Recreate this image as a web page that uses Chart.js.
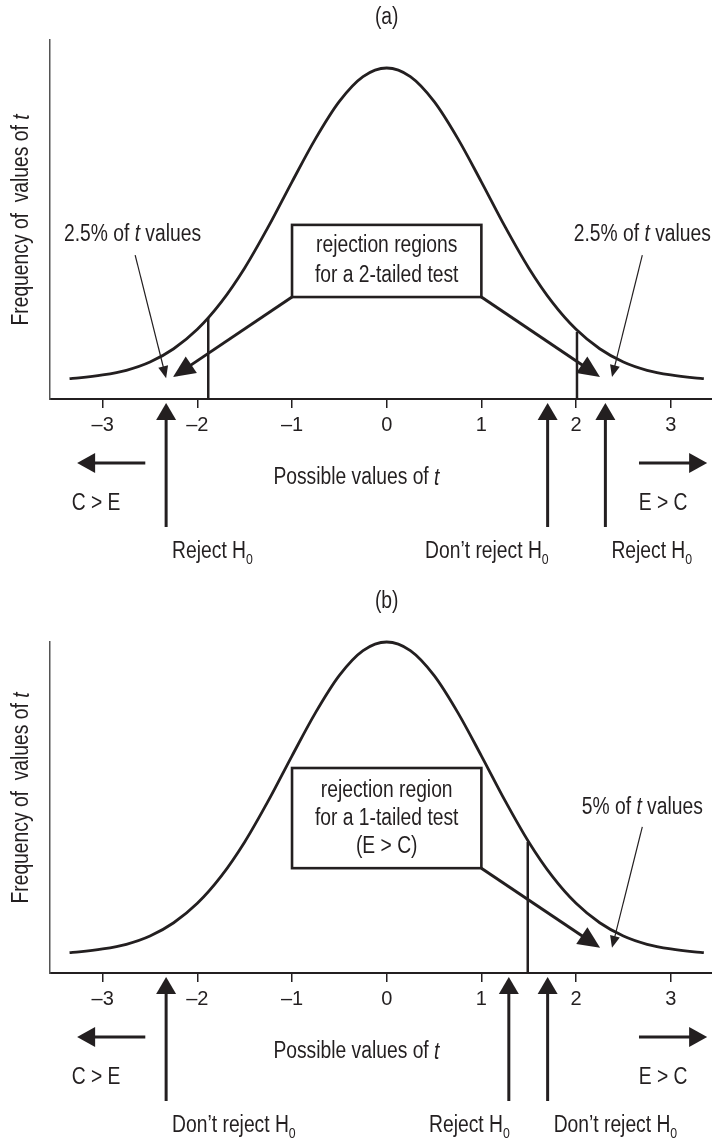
<!DOCTYPE html>
<html><head><meta charset="utf-8">
<script src="https://cdn.jsdelivr.net/npm/chart.js@4.4.1/dist/chart.umd.min.js"></script>
<style>
html,body{margin:0;padding:0;background:#fff;}
#wrapA{position:absolute;left:0;top:0;width:712px;height:574px;}
#wrapB{position:absolute;left:0;top:574px;width:712px;height:566px;}
canvas{display:block;}
</style></head><body>
<div id="wrapA"><canvas id="chartA"></canvas></div>
<div id="wrapB"><canvas id="chartB"></canvas></div>
<script>
// ---------------- data ----------------
const tickValues = [-3, -2, -1, 0, 1, 2, 3];
const curveT    = [-3.35,-3.25,-3,-2.75,-2.5,-2.25,-2,-1.75,-1.5,-1.25,-1,-0.75,-0.5,-0.25,0,0.25,0.5,0.75,1,1.25,1.5,1.75,2,2.25,2.5,2.75,3,3.25,3.35];
const curveFreq = [5.7,5.9,6.7,8.0,10.3,14.0,19.4,26.9,36.5,48.0,60.5,72.6,82.9,89.8,92.2,89.8,82.9,72.6,60.5,48.0,36.5,26.9,19.4,14.0,10.3,8.0,6.7,5.9,5.7];

const panelTitles = ['(a)', '(b)'];
const yAxisTitle = 'Frequency of  values of *t*';
const xAxisTitle = 'Possible values of *t*';
const directionLabels = ['C > E', 'E > C'];
const directionFromT = [-2.55, 2.665];
const directionToT = [-3.27, 3.385];
const directionLabelT = [-3.07, 2.92];

// panel (a)
const criticalT_a = [-1.885, 2.01];
const criticalFreq_a = [22.6, 18.7];
const decisionT_a = [-2.33, 1.70, 2.31];
const decisionLabels_a = ['Reject H_0', 'Don\u2019t reject H_0', 'Reject H_0'];
const decisionAlign_a = ['left', 'right', 'left'];
const boxLines_a = ['rejection regions', 'for a 2-tailed test'];
const boxT_a = [-1, 1];
const boxFreq_a = [28.4, 48.5];
const pointerFrom_a = [[-1, 28.4], [1, 28.4]];
const pointerTo_a = [[-2.257, 6.1], [2.253, 6.1]];
const noteLabels_a = ['2.5% of *t* values', '2.5% of *t* values'];
const noteAt_a = [[-2.685, 45.7], [2.70, 45.7]];
const noteFrom_a = [[-2.657, 40.1], [2.70, 40.1]];
const noteTo_a = [[-2.33, 5.8], [2.38, 6.1]];

// panel (b)
const criticalT_b = [1.49];
const criticalFreq_b = [36.5];
const decisionT_b = [-2.33, 1.29, 1.70];
const decisionLabels_b = ['Don\u2019t reject H_0', 'Reject H_0', 'Don\u2019t reject H_0'];
const decisionAlign_b = ['left', 'right', 'left'];
const boxLines_b = ['rejection region', 'for a 1-tailed test', '(E > C)'];
const boxT_b = [-1, 1];
const boxFreq_b = [29.2, 57.1];
const pointerFrom_b = [[1, 29.2]];
const pointerTo_b = [[2.254, 7.0]];
const noteLabels_b = ['5% of *t* values'];
const noteAt_b = [[2.70, 46.2]];
const noteFrom_b = [[2.70, 40.7]];
const noteTo_b = [[2.38, 7.0]];

// ---------------- styling / layout ----------------
const INK = '#231f20';
const AXIS_Y = 399;
const X_MIN = -3.5566, X_MAX = 3.4362;

function hasFont(name) {
  const c = document.createElement('canvas').getContext('2d');
  c.font = '40px monospace';
  const w1 = c.measureText('abcdefghijklmWMi').width;
  c.font = '40px "' + name + '", monospace';
  const w2 = c.measureText('abcdefghijklmWMi').width;
  return Math.abs(w1 - w2) > 0.5;
}
const NARROW = hasFont('Liberation Sans Narrow');
const FAM = NARROW ? '"Liberation Sans Narrow", "Liberation Sans", Arial, sans-serif' : '"Liberation Sans", Arial, sans-serif';
const SX = NARROW ? 1 : 0.82;
const TXT = 23.5;

function parseRich(s) {
  const out = []; const re = /\*([^*]+)\*|_(\w)/g; let last = 0, m;
  while ((m = re.exec(s))) {
    if (m.index > last) out.push({ t: s.slice(last, m.index) });
    if (m[1] !== undefined) out.push({ t: m[1], it: true }); else out.push({ t: m[2], sub: true });
    last = re.lastIndex;
  }
  if (last < s.length) out.push({ t: s.slice(last) });
  return out;
}
function drawRich(ctx, s, x, y, align, size) {
  const segs = parseRich(s);
  ctx.textBaseline = 'middle'; ctx.textAlign = 'left';
  const fontOf = sg => (sg.it ? 'italic ' : '') + (sg.sub ? Math.round(size * 0.62) : size) + 'px ' + FAM;
  let total = 0;
  const ws = segs.map(sg => { ctx.font = fontOf(sg); const w = ctx.measureText(sg.t).width * SX; total += w; return w; });
  let cx = align === 'center' ? x - total / 2 : align === 'right' ? x - total : x;
  segs.forEach((sg, i) => {
    ctx.font = fontOf(sg);
    ctx.save(); ctx.translate(cx, y + (sg.sub ? size * 0.34 : 0)); ctx.scale(SX, 1);
    ctx.fillText(sg.t, 0, 0); ctx.restore();
    cx += ws[i];
  });
}
function arrow(ctx, x0, y0, x1, y1, lw, L, W) {
  const dx = x1 - x0, dy = y1 - y0, len = Math.hypot(dx, dy), ux = dx / len, uy = dy / len;
  const bx = x1 - ux * L, by = y1 - uy * L;
  ctx.lineWidth = lw; ctx.lineCap = 'butt';
  ctx.beginPath(); ctx.moveTo(x0, y0); ctx.lineTo(bx + ux, by + uy); ctx.stroke();
  ctx.beginPath(); ctx.moveTo(x1, y1);
  ctx.lineTo(bx - uy * W, by + ux * W); ctx.lineTo(bx + uy * W, by - ux * W);
  ctx.closePath(); ctx.fill();
}

function makeAnnot(P) {
  return {
    id: 'annot' + P.id,
    afterDraw(chart) {
      const ctx = chart.ctx, xs = chart.scales.x, ys = chart.scales.y, ca = chart.chartArea;
      const X = v => xs.getPixelForValue(v), Y = v => ys.getPixelForValue(v);
      const base = ca.bottom;
      ctx.save();
      ctx.fillStyle = INK; ctx.strokeStyle = INK;
      drawRich(ctx, P.title, X(0), P.titleY, 'center', TXT);
      ctx.save(); ctx.translate(22, P.yTitleY); ctx.rotate(-Math.PI / 2);
      drawRich(ctx, yAxisTitle, 0, 0, 'center', TXT); ctx.restore();
      drawRich(ctx, xAxisTitle, X(-0.32), base + 79, 'center', TXT);
      directionLabels.forEach((lab, i) => {
        arrow(ctx, X(directionFromT[i]), base + 64, X(directionToT[i]), base + 64, 3, 18, 10);
        drawRich(ctx, lab, X(directionLabelT[i]), base + 105, 'center', TXT);
      });
      P.decT.forEach((t, i) => {
        const x = X(t);
        arrow(ctx, x, base + 128, x, base + 4, 3, 17, 10);
        const al = P.decAlign[i];
        drawRich(ctx, P.decL[i], al === 'left' ? x + 6 : x + 1, base + 153, al, TXT);
      });
      const bx0 = X(P.boxT[0]), bx1 = X(P.boxT[1]), by0 = Y(P.boxF[1]), by1 = Y(P.boxF[0]);
      ctx.fillStyle = '#fff'; ctx.fillRect(bx0, by0, bx1 - bx0, by1 - by0);
      ctx.fillStyle = INK; ctx.lineWidth = 2.6; ctx.strokeRect(bx0, by0, bx1 - bx0, by1 - by0);
      const n = P.boxLines.length, cy = (by0 + by1) / 2;
      P.boxLines.forEach((ln, i) => drawRich(ctx, ln, (bx0 + bx1) / 2, cy + (i - (n - 1) / 2) * P.lh, 'center', TXT));
      P.pFrom.forEach((f, i) => arrow(ctx, X(f[0]), Y(f[1]), X(P.pTo[i][0]), Y(P.pTo[i][1]), 3, 22, 10));
      P.nLab.forEach((lab, i) => {
        drawRich(ctx, lab, X(P.nAt[i][0]), Y(P.nAt[i][1]), 'center', TXT);
        arrow(ctx, X(P.nFrom[i][0]), Y(P.nFrom[i][1]), X(P.nTo[i][0]), Y(P.nTo[i][1]), 1.2, 12, 5);
      });
      ctx.restore();
    }
  };
}

function buildChart(P) {
  const datasets = [{
    data: curveT.map((t, i) => ({ x: t, y: curveFreq[i] })),
    showLine: true, borderColor: INK, borderWidth: 2.8, pointRadius: 0,
    cubicInterpolationMode: 'monotone', fill: false, clip: false
  }];
  P.critT.forEach((t, i) => datasets.push({
    data: [{ x: t, y: 0 }, { x: t, y: P.critF[i] }],
    showLine: true, borderColor: INK, borderWidth: 2.5, pointRadius: 0, clip: false
  }));
  return new Chart(document.getElementById(P.id), {
    type: 'scatter',
    data: { datasets },
    options: {
      animation: false, responsive: true, maintainAspectRatio: false, devicePixelRatio: 1,
      layout: { padding: { top: P.padTop, left: 0, right: 0, bottom: 0 } },
      plugins: { legend: { display: false }, tooltip: { enabled: false }, title: { display: false } },
      scales: {
        x: {
          type: 'linear', min: X_MIN, max: X_MAX,
          afterBuildTicks: s => { s.ticks = tickValues.map(v => ({ value: v })); },
          afterFit: s => { s.height = P.height - AXIS_Y; },
          grid: { display: true, drawOnChartArea: false, drawTicks: true, tickLength: 9, color: INK, tickColor: INK, lineWidth: 1.5 },
          border: { display: true, color: INK, width: 2 },
          ticks: { color: INK, font: { family: FAM, size: NARROW ? 24 : 20 }, padding: 5, maxRotation: 0, autoSkip: false,
                   callback: v => v < 0 ? '\u2013' + (-v) : String(v) }
        },
        y: {
          type: 'linear', min: 0, max: P.yMax,
          afterFit: s => { s.width = 50; },
          ticks: { display: false }, grid: { display: false },
          border: { display: true, color: '#555', width: 1.5 }
        }
      }
    },
    plugins: [makeAnnot(P)]
  });
}

const panelA = { id: 'chartA', height: 574, padTop: 40, yMax: 100, title: panelTitles[0], titleY: 18, yTitleY: 220,
  critT: criticalT_a, critF: criticalFreq_a, decT: decisionT_a, decL: decisionLabels_a, decAlign: decisionAlign_a,
  boxT: boxT_a, boxF: boxFreq_a, boxLines: boxLines_a, lh: 30,
  pFrom: pointerFrom_a, pTo: pointerTo_a, nLab: noteLabels_a, nAt: noteAt_a, nFrom: noteFrom_a, nTo: noteTo_a };
const panelB = { id: 'chartB', height: 566, padTop: 68, yMax: 92.2, title: panelTitles[1], titleY: 28, yTitleY: 224,
  critT: criticalT_b, critF: criticalFreq_b, decT: decisionT_b, decL: decisionLabels_b, decAlign: decisionAlign_b,
  boxT: boxT_b, boxF: boxFreq_b, boxLines: boxLines_b, lh: 28,
  pFrom: pointerFrom_b, pTo: pointerTo_b, nLab: noteLabels_b, nAt: noteAt_b, nFrom: noteFrom_b, nTo: noteTo_b };

buildChart(panelA);
buildChart(panelB);
</script>
</body></html>
